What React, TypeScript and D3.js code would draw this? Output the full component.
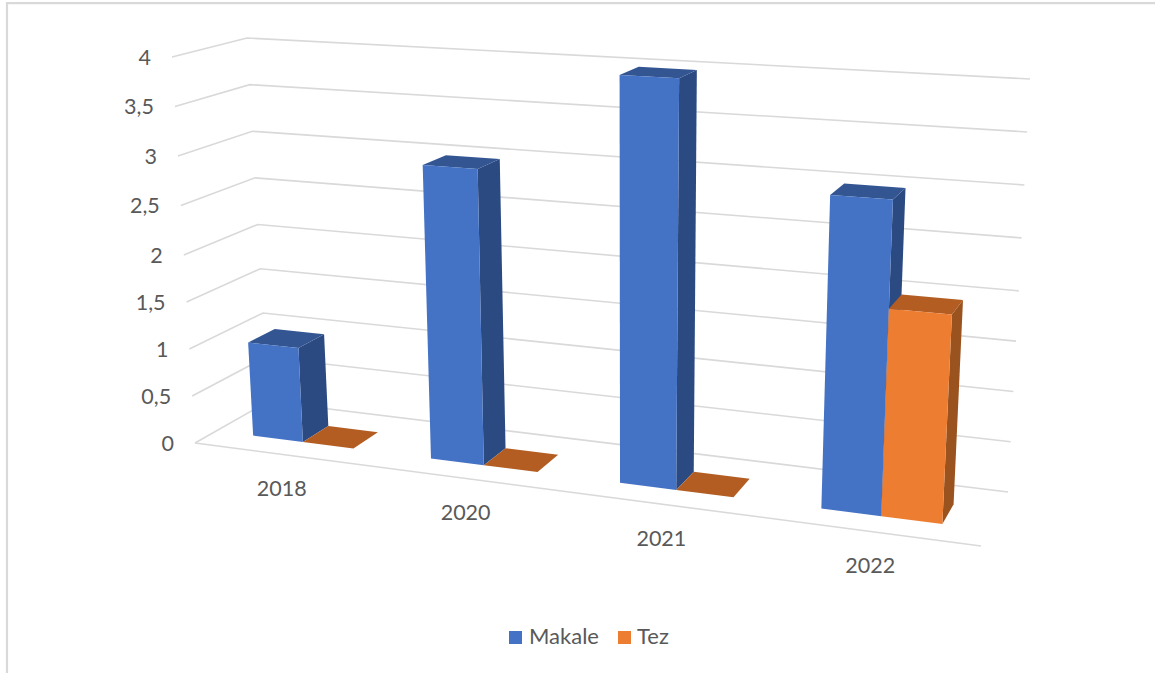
import React from "react";
import * as d3 from "d3";

// ---- data ----
const categories = ["2018", "2020", "2021", "2022"];
const makale = [1, 3, 4, 3];
const tez = [0, 0, 0, 2];
const valueTicks = [0, 0.5, 1, 1.5, 2, 2.5, 3, 3.5, 4];
const tickLabels = ["0", "0,5", "1", "1,5", "2", "2,5", "3", "3,5", "4"];

type P = [number, number];
const W = 1155;
const H = 673;

// plot box corners: front-left, front-right, back-right, back-left
const floorQuad: P[] = [[195, 443], [981, 546], [1008, 492], [268, 401.5]];
const topQuad: P[] = [[172, 57], [1004, 103.9], [1030, 79], [247, 38]];

function homography(q: P[]) {
  const [[x0, y0], [x1, y1], [x2, y2], [x3, y3]] = q;
  const dx1 = x1 - x2, dx2 = x3 - x2, sx = x0 - x1 + x2 - x3;
  const dy1 = y1 - y2, dy2 = y3 - y2, sy = y0 - y1 + y2 - y3;
  const det = dx1 * dy2 - dx2 * dy1;
  const g = (sx * dy2 - dx2 * sy) / det;
  const h = (dx1 * sy - sx * dy1) / det;
  const a = x1 - x0 + g * x1, b = x3 - x0 + h * x3;
  const d = y1 - y0 + g * y1, e = y3 - y0 + h * y3;
  return (u: number, v: number): P => {
    const w = 1 + g * u + h * v;
    return [(a * u + b * v + x0) / w, (d * u + e * v + y0) / w];
  };
}
const floorH = homography(floorQuad);
const topH = homography(topQuad);

// value -> fraction of wall height (slight perspective compression)
const yScale = d3.scaleLinear().domain([0, 2, 4]).range([0, 0.487, 1]);
// category -> position along the axis (gap width 150 %)
const xBand = d3
  .scaleBand<string>()
  .domain(categories)
  .range([0, 1])
  .paddingInner(0.4286)
  .paddingOuter(0.2143);
const seriesBand = d3.scaleBand<number>().domain([0, 1]).range([0, xBand.bandwidth()]);
const depthFront = 0.28;
const depthBack = 0.65;

function project(u: number, value: number, depth: number): P {
  const a = floorH(u, depth);
  const b = topH(u, depth);
  const t = yScale(value);
  return [a[0] + (b[0] - a[0]) * t, a[1] + (b[1] - a[1]) * t];
}

const line = d3.line<P>();
const poly = (pts: P[]) => line(pts) + "Z";

const GRID = "#D9D9D9";
const TEXT = "#595959";
const FONT = "Lato, 'Open Sans', sans-serif";
const palettes = [
  { front: "#4472C4", side: "#2B4A82", top: "#335693" },
  { front: "#ED7D31", side: "#9A531F", top: "#B35D22" },
];

function Bar({ cat, series, value }: { cat: string; series: number; value: number }) {
  const u0 = (xBand(cat) as number) + (seriesBand(series) as number);
  const u1 = u0 + seriesBand.bandwidth();
  const c = palettes[series];
  const fl = project(u0, 0, depthFront);
  const fr = project(u1, 0, depthFront);
  const br = project(u1, 0, depthBack);
  const tfl = project(u0, value, depthFront);
  const tfr = project(u1, value, depthFront);
  const tbr = project(u1, value, depthBack);
  const tbl = project(u0, value, depthBack);
  return (
    <g>
      <path d={poly([fr, br, tbr, tfr])} fill={c.side} />
      <path d={poly([tfl, tfr, tbr, tbl])} fill={c.top} />
      <path d={poly([fl, fr, tfr, tfl])} fill={c.front} />
    </g>
  );
}

export default function App() {
  return (
    <svg
      width={W}
      height={H}
      viewBox={`0 0 ${W} ${H}`}
      style={{ position: "absolute", left: 0, top: 0, background: "#fff" }}
      fontFamily={FONT}
    >
      {/* outer frame */}
      <path d={`M7 ${H}V3.2H${W}`} fill="none" stroke="#D9D9D9" strokeWidth={2.2} />

      {/* walls */}
      {valueTicks.map((v) => (
        <path
          key={v}
          d={line([project(0, v, 0), project(0, v, 1), project(1, v, 1)]) as string}
          fill="none"
          stroke={GRID}
          strokeWidth={1.6}
        />
      ))}
      <path
        d={line([project(0, 0, 0), project(1, 0, 0)]) as string}
        fill="none"
        stroke={GRID}
        strokeWidth={1.6}
      />

      {/* value labels */}
      {valueTicks.map((v, i) => {
        const p = project(0, v, 0);
        return (
          <text key={v} x={p[0] - 21} y={p[1] + 7.5} textAnchor="end" fontSize={21.5} fill={TEXT}>
            {tickLabels[i]}
          </text>
        );
      })}

      {/* bars */}
      {categories.map((cat, i) => (
        <g key={cat}>
          <Bar cat={cat} series={0} value={makale[i]} />
          <Bar cat={cat} series={1} value={tez[i]} />
        </g>
      ))}

      {/* category labels */}
      {categories.map((cat) => {
        const p = project((xBand(cat) as number) + xBand.bandwidth() / 2, 0, 0);
        return (
          <text key={cat} x={p[0] - 1} y={p[1] + 41.5} textAnchor="middle" fontSize={21.5} fill={TEXT}>
            {cat}
          </text>
        );
      })}

      {/* legend */}
      <rect x={509} y={631} width={13} height={13} fill={palettes[0].front} />
      <text x={529} y={644} fontSize={22} fill={TEXT}>Makale</text>
      <rect x={618} y={631} width={13} height={13} fill={palettes[1].front} />
      <text x={637} y={644} fontSize={22} fill={TEXT}>Tez</text>
    </svg>
  );
}
